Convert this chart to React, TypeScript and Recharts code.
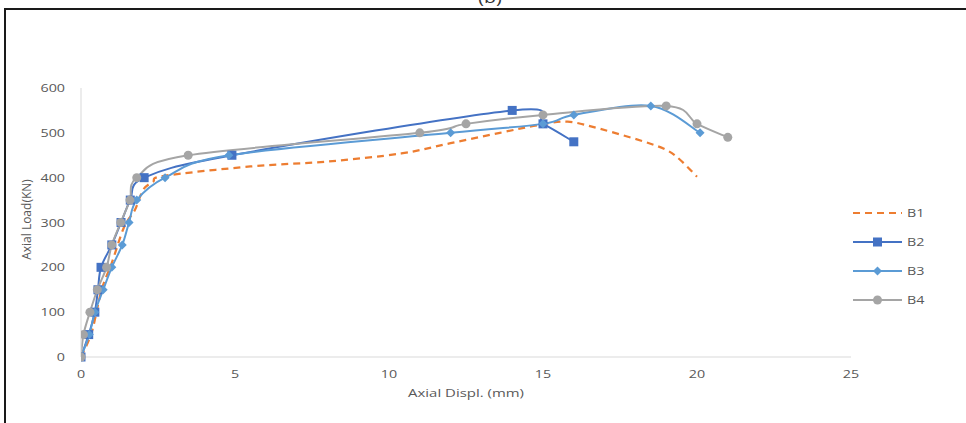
import React from 'react';
import { LineChart, Line, XAxis, YAxis, Legend } from 'recharts';

// Axial load vs axial displacement for specimens B1–B4
const b1Disp = [0, 0.35, 0.67, 1.0, 1.4, 1.75, 2.02, 2.34, 2.7, 5.5, 8, 10.4, 12, 13.6, 14.9, 15.8, 16.85, 18.25, 19, 19.45, 20];
const b1Load = [0, 56, 150, 210, 290, 328, 373, 391, 404, 425, 436, 454, 477, 500, 518, 525, 509, 481, 462, 440, 402];

const b2Disp = [0, 0.25, 0.45, 0.55, 0.65, 1.0, 1.3, 1.6, 2.05, 4.9, 14, 15, 16];
const b2Load = [0, 50, 100, 150, 200, 250, 300, 350, 400, 450, 550, 520, 480];

const b3Disp = [0, 0.27, 0.45, 0.72, 1.0, 1.34, 1.56, 1.81, 2.73, 4.8, 12, 15, 16, 18.5, 20.1];
const b3Load = [0, 50, 100, 150, 200, 250, 300, 350, 400, 450, 500, 520, 540, 560, 500];

const b4Disp = [0, 0.08, 0.29, 0.53, 0.83, 1.0, 1.29, 1.59, 1.81, 3.48, 11, 12.5, 15, 19, 20, 21];
const b4Load = [0, 50, 100, 150, 200, 250, 300, 350, 400, 450, 500, 520, 540, 560, 520, 490];

const xTicks = [0, 5, 10, 15, 20, 25];
const yTicks = [0, 100, 200, 300, 400, 500, 600];

const FONT = "'Open Sans', 'Liberation Sans', sans-serif";
const TEXT = '#595959';
const AXIS = '#D9D9D9';
const STRETCH = 'scale(1.3,1)';

type Marker = 'none' | 'square' | 'diamond' | 'circle';

const toPoints = (xs: number[], ys: number[]) => xs.map((x, i) => ({ x, y: ys[i] }));

const series = [
  { name: 'B1', color: '#ED7D31', dash: '7 5', marker: 'none' as Marker, data: toPoints(b1Disp, b1Load) },
  { name: 'B2', color: '#4472C4', dash: undefined, marker: 'square' as Marker, data: toPoints(b2Disp, b2Load) },
  { name: 'B3', color: '#5B9BD5', dash: undefined, marker: 'diamond' as Marker, data: toPoints(b3Disp, b3Load) },
  { name: 'B4', color: '#A5A5A5', dash: undefined, marker: 'circle' as Marker, data: toPoints(b4Disp, b4Load) },
];

// Catmull-Rom style smoothing (cubic Béziers through every point), like a spreadsheet "smoothed line"
function smoothCurve(context: any) {
  let pts: number[][] = [];
  return {
    areaStart() {},
    areaEnd() {},
    lineStart() {
      pts = [];
    },
    point(x: number, y: number) {
      pts.push([+x, +y]);
    },
    lineEnd() {
      const n = pts.length;
      if (!n) return;
      context.moveTo(pts[0][0], pts[0][1]);
      for (let i = 0; i < n - 1; i++) {
        const p0 = pts[Math.max(i - 1, 0)];
        const p1 = pts[i];
        const p2 = pts[i + 1];
        const p3 = pts[Math.min(i + 2, n - 1)];
        context.bezierCurveTo(
          p1[0] + (p2[0] - p0[0]) / 6,
          p1[1] + (p2[1] - p0[1]) / 6,
          p2[0] - (p3[0] - p1[0]) / 6,
          p2[1] - (p3[1] - p1[1]) / 6,
          p2[0],
          p2[1]
        );
      }
    },
  };
}

function drawMarker(kind: Marker, cx: number, cy: number, color: string, key?: string) {
  if (kind === 'square') {
    return <rect key={key} x={cx - 4.5} y={cy - 4.5} width={9} height={9} fill={color} />;
  }
  if (kind === 'diamond') {
    return (
      <path key={key} d={`M${cx},${cy - 4.5}L${cx + 4.5},${cy}L${cx},${cy + 4.5}L${cx - 4.5},${cy}Z`} fill={color} />
    );
  }
  if (kind === 'circle') {
    return <circle key={key} cx={cx} cy={cy} r={4.5} fill={color} />;
  }
  return <g key={key} />;
}

const makeDot = (kind: Marker, color: string, name: string) => (props: any) => {
  const { cx, cy, index } = props;
  if (cx == null || cy == null) return <g key={`${name}-${index}`} />;
  return drawMarker(kind, cx, cy, color, `${name}-${index}`);
};

const XTick = (props: any) => {
  const { x, y, payload } = props;
  return (
    <g transform={`translate(${x},${y})`}>
      <text transform={STRETCH} y={21} textAnchor="middle" fill={TEXT} fontSize={11} fontFamily={FONT}>
        {payload.value}
      </text>
    </g>
  );
};

const YTick = (props: any) => {
  const { x, y, payload } = props;
  return (
    <g transform={`translate(${x - 16},${y})`}>
      <text transform={STRETCH} y={4} textAnchor="end" fill={TEXT} fontSize={11} fontFamily={FONT}>
        {payload.value}
      </text>
    </g>
  );
};

const XLabel = (props: any) => {
  const { viewBox } = props;
  const cx = viewBox.x + viewBox.width / 2;
  return (
    <g transform={`translate(${cx},${viewBox.y + 40})`}>
      <text transform={STRETCH} textAnchor="middle" fill={TEXT} fontSize={11.5} fontFamily={FONT}>
        Axial Displ. (mm)
      </text>
    </g>
  );
};

const YLabel = (props: any) => {
  const { viewBox } = props;
  const cx = viewBox.x + 26;
  const cy = viewBox.y + viewBox.height / 2 - 3;
  return (
    <text
      x={cx}
      y={cy}
      transform={`rotate(-90 ${cx} ${cy})`}
      textAnchor="middle"
      dominantBaseline="central"
      fill={TEXT}
      fontSize={12}
      fontFamily={FONT}
    >
      Axial Load(KN)
    </text>
  );
};

const LegendContent = () => (
  <svg width={110} height={120}>
    {series.map((s, i) => {
      const y = 7 + i * 29;
      return (
        <g key={s.name}>
          <line x1={3} x2={52} y1={y} y2={y} stroke={s.color} strokeWidth={2} strokeDasharray={s.dash} />
          {drawMarker(s.marker, 27.5, y, s.color)}
          <g transform={`translate(57,${y + 4})`}>
            <text transform={STRETCH} fill={TEXT} fontSize={11} fontFamily={FONT}>
              {s.name}
            </text>
          </g>
        </g>
      );
    })}
  </svg>
);

export default function App() {
  return (
    <div style={{ position: 'absolute', left: 0, top: 0, width: 966, height: 423, overflow: 'hidden', background: '#fff' }}>
      {/* figure frame */}
      <div
        style={{
          position: 'absolute',
          left: 4,
          top: 8,
          width: 980,
          height: 440,
          borderTop: '2px solid #1a1a1a',
          borderLeft: '2px solid #1a1a1a',
        }}
      />
      <svg style={{ position: 'absolute', left: 0, top: 0 }} width={966} height={12}>
        <g transform="translate(490,3)">
          <text transform={STRETCH} textAnchor="middle" fill="#333" fontSize={15} fontFamily={FONT}>
            (b)
          </text>
        </g>
      </svg>
      <div style={{ position: 'absolute', left: 0, top: 0 }}>
        <LineChart width={966} height={423} margin={{ top: 88, right: 115, bottom: 36, left: 0 }}>
          <XAxis
            type="number"
            dataKey="x"
            domain={[0, 25]}
            ticks={xTicks}
            interval={0}
            allowDataOverflow
            height={30}
            tickLine={false}
            tickSize={0}
            tickMargin={0}
            axisLine={{ stroke: AXIS, strokeWidth: 1 }}
            tick={<XTick />}
            label={<XLabel />}
          />
          <YAxis
            type="number"
            dataKey="y"
            domain={[0, 600]}
            ticks={yTicks}
            interval={0}
            width={81}
            tickLine={false}
            tickSize={0}
            tickMargin={0}
            axisLine={{ stroke: AXIS, strokeWidth: 1 }}
            tick={<YTick />}
            label={<YLabel />}
          />
          <Legend
            layout="vertical"
            align="center"
            verticalAlign="middle"
            wrapperStyle={{ left: 850, top: 206, width: 110 }}
            content={<LegendContent />}
          />
          {series.map((s) => (
            <Line
              key={s.name}
              name={s.name}
              data={s.data}
              dataKey="y"
              type={smoothCurve as any}
              stroke={s.color}
              strokeWidth={s.marker === 'none' ? 2.25 : 2}
              strokeDasharray={s.dash}
              dot={s.marker === 'none' ? false : makeDot(s.marker, s.color, s.name)}
              activeDot={false}
              isAnimationActive={false}
            />
          ))}
        </LineChart>
      </div>
    </div>
  );
}
